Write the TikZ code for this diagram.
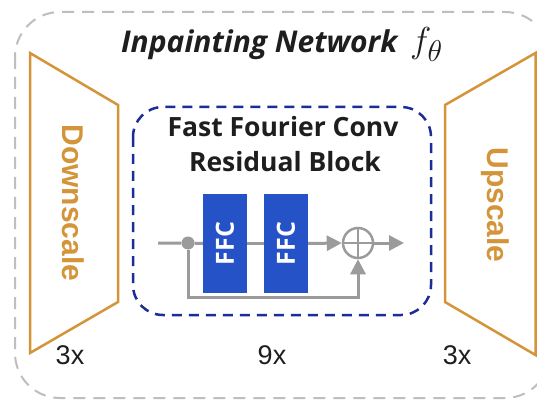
\documentclass[tikz,border=0pt]{standalone}
\usepackage{fontspec}
\usepackage{graphicx}
\setmainfont{Open Sans}
\newfontfamily\arialf{Liberation Sans}
\usetikzlibrary{arrows.meta}
\definecolor{orng}{RGB}{212,148,58}
\definecolor{dblue}{RGB}{28,45,150}
\definecolor{fblue}{RGB}{38,82,200}
\definecolor{gline}{RGB}{155,155,155}
\definecolor{oline}{RGB}{190,190,190}
\definecolor{txt}{RGB}{30,30,30}
\tikzset{
  trap/.style={draw=orng, line width=2.5pt, line join=miter},
  ffcbox/.style={fill=fblue, minimum width=44pt, minimum height=99pt, inner sep=0pt, text=white, font=\fontsize{25}{26}\selectfont\bfseries},
  gl/.style={draw=gline, line width=3pt},
  arr/.style={gl, -{Triangle[length=15pt,width=15pt]}},
  cnt/.style={text=txt, font=\arialf\fontsize{27}{30}\selectfont},
  scl/.style={text=orng, font=\arialf\fontsize{30}{32}\selectfont\bfseries},
}
\begin{document}
\begin{tikzpicture}[x=1pt,y=-1pt]
\useasboundingbox (0,0) rectangle (537,403);
\fill[white] (0,0) rectangle (537,403);
\begin{scope}
\clip (0,0) rectangle (537,403);
\draw[oline, line width=2pt, dash pattern=on 12pt off 8pt, rounded corners=45pt] (15,12) rectangle (550,398);
\draw[trap] (30,53) -- (118,105) -- (118,302) -- (30,353) -- cycle;
\draw[trap] (445,105) -- (535.5,53) -- (535.5,355) -- (445,302) -- cycle;
\end{scope}
\node[anchor=base, text=txt, font=\fontsize{30}{32}\selectfont\bfseries\itshape] (title) at (282,53) {Inpainting Network \,\scalebox{1.45}{$f_\theta$}};
\draw[dblue, line width=2.5pt, dash pattern=on 10pt off 7pt, rounded corners=30pt] (133,107) rectangle (431,315);
\node[anchor=base, text=txt, font=\fontsize{26.5}{35}\selectfont\bfseries] (hdr1) at (283,137) {Fast Fourier Conv};
\node[anchor=base, text=txt, font=\fontsize{26.5}{35}\selectfont\bfseries] (hdr2) at (285,172) {Residual Block};
\node[scl] (ds) at (73,203) {\rotatebox{-90}{Downscale}};
\node[scl] (us) at (495,205) {\rotatebox{-90}{Upscale}};
\node[ffcbox] (f1) at (225,243.5) {\rotatebox{90}{FFC}};
\node[ffcbox] (f2) at (286,243.5) {\rotatebox{90}{FFC}};
\coordinate (in) at (158,243);
\node[circle, fill=gline, minimum size=13pt, inner sep=0pt] (dot) at (188,243) {};
\node[circle, draw=gline, line width=2.5pt, minimum size=30pt, inner sep=0pt] (plus) at (358,243) {};
\draw[gline, line width=2.5pt] (plus.north) -- (plus.south) (plus.west) -- (plus.east);
\coordinate (out) at (404,243);
\draw[gl] (in) -- (dot) -- (f1.west);
\draw[gl] (f1.east) -- (f2.west);
\draw[arr] (f2.east) -- (plus.west);
\draw[arr] (plus.east) -- (out);
\draw[arr] (dot) -- (dot |- 0,297) -| (plus.south);
\node[cnt] (n1) at (70,355) {3x};
\node[cnt] (n2) at (272,355) {9x};
\node[cnt] (n3) at (457,355) {3x};
\end{tikzpicture}
\end{document}
